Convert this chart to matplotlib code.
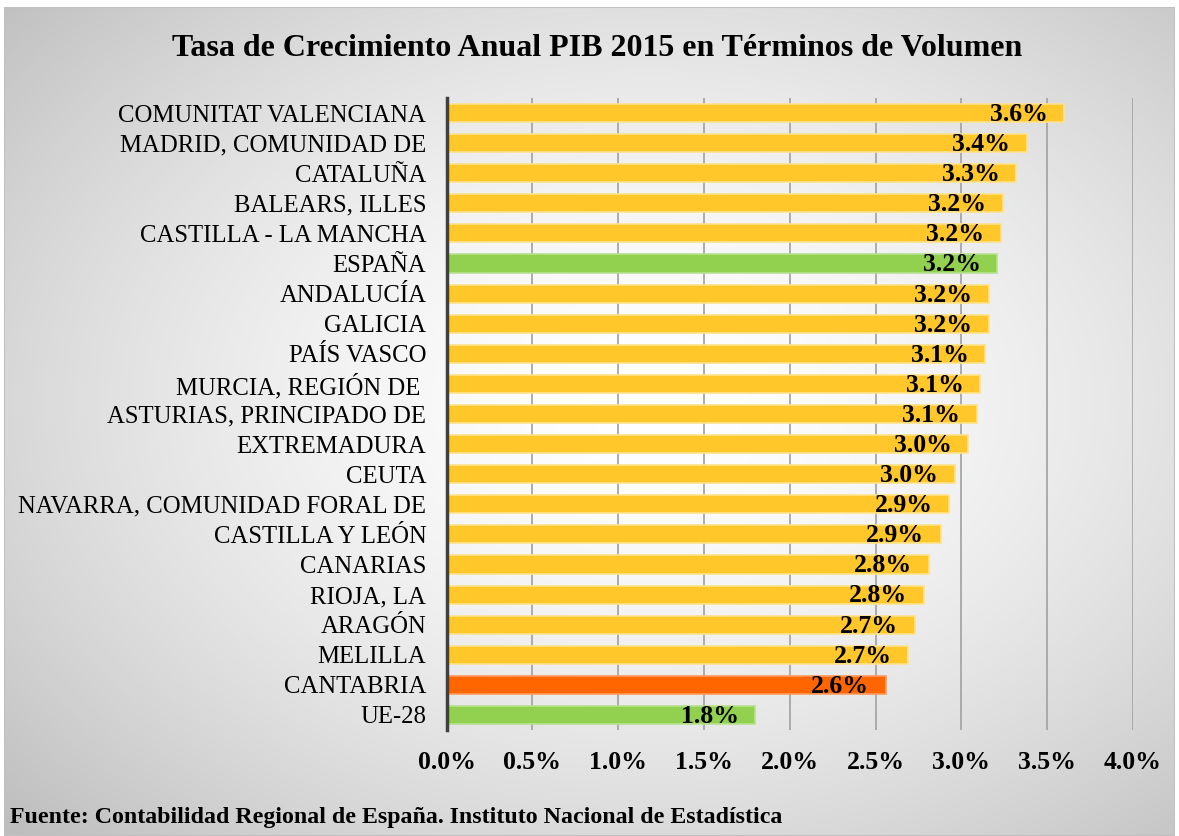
import numpy as np
import matplotlib
matplotlib.use("Agg")
import matplotlib.pyplot as plt

categories = [
    "COMUNITAT VALENCIANA", "MADRID, COMUNIDAD DE", "CATALUÑA", "BALEARS, ILLES",
    "CASTILLA - LA MANCHA", "ESPAÑA", "ANDALUCÍA", "GALICIA", "PAÍS VASCO",
    "MURCIA, REGIÓN DE ", "ASTURIAS, PRINCIPADO DE", "EXTREMADURA", "CEUTA",
    "NAVARRA, COMUNIDAD FORAL DE", "CASTILLA Y LEÓN", "CANARIAS", "RIOJA, LA",
    "ARAGÓN", "MELILLA", "CANTABRIA", "UE-28",
]
values = [3.60, 3.38, 3.32, 3.24, 3.23, 3.21, 3.16, 3.16, 3.14, 3.11, 3.09,
          3.04, 2.96, 2.93, 2.88, 2.81, 2.78, 2.73, 2.69, 2.56, 1.80]
xticks = [0.0, 0.5, 1.0, 1.5, 2.0, 2.5, 3.0, 3.5, 4.0]
title = "Tasa de Crecimiento Anual PIB 2015 en Términos de Volumen"
source = "Fuente: Contabilidad Regional de España. Instituto Nacional de Estadística"

YELLOW, YEDGE = "#FFC729", "#FFE28A"
GREEN, GEDGE = "#92D050", "#B8E08F"
ORANGE, OEDGE = "#FF6600", "#FF9A5A"

def colors_for(cat):
    if cat in ("ESPAÑA", "UE-28"):
        return GREEN, GEDGE
    if cat == "CANTABRIA":
        return ORANGE, OEDGE
    return YELLOW, YEDGE

plt.rcParams['font.family'] = ['Liberation Serif', 'DejaVu Serif']

W, H = 1179, 836
fig = plt.figure(figsize=(W / 100, H / 100), dpi=100)

# background radial gradient
bg = fig.add_axes([4 / W, 0, 1 - 8 / W, 1 - 7 / H])
bg.set_axis_off()
yy, xx = np.mgrid[0:400, 0:600]
cx, cy = 330, 190
r = np.sqrt(((xx - cx) / 600) ** 2 + ((yy - cy) / 400) ** 2) / 0.72
g = 1 - 0.24 * np.clip(r, 0, 1.2) ** 1.6
bg.imshow(np.dstack([g, g, g]), aspect='auto', extent=[0, 1, 0, 1])
bg.add_patch(plt.Rectangle((0, 0), 1, 1, transform=bg.transAxes, fill=False,
                           edgecolor="#C0C0C0", lw=1.5))

ax = fig.add_axes([446.5 / W, 1 - 730 / H, 686.5 / W, 632 / H])
ax.patch.set_alpha(0)
n = len(categories)
ypos = np.arange(n)[::-1]
for y, cat, v in zip(ypos, categories, values):
    fc, ec = colors_for(cat)
    ax.barh(y, v, height=0.6, color=fc, edgecolor=ec, linewidth=1.2, zorder=3)
    ax.annotate(f"{v:.1f}%", xy=(v, y), xytext=(-12, -1), textcoords='offset points',
                ha='right', va='center', fontsize=18.5, fontweight='bold', zorder=4)

ax.set_xlim(0, 4.0)
ax.set_ylim(-0.5, n - 0.5)
ax.set_xticks(xticks)
ax.set_xticklabels([f"{t:.1f}%" for t in xticks], fontsize=18.5, fontweight='bold')
ax.set_yticks(ypos)
ax.set_yticklabels(categories, fontsize=17.8)
ax.tick_params(axis='both', length=0)
ax.tick_params(axis='x', pad=15)
ax.tick_params(axis='y', pad=14.5)
ax.grid(axis='x', color="#A6A6A6", lw=1.3, zorder=0)
for s in ("top", "right", "bottom"):
    ax.spines[s].set_visible(False)
ax.spines['left'].set_color("#404040")
ax.spines['left'].set_linewidth(2.5)
ax.spines['left'].set_zorder(5)

fig.text(597 / W, 1 - 49 / H, title, ha='center', va='center', fontsize=23,
         fontweight='bold')
fig.text(10 / W, 1 - 818 / H, source, ha='left', va='center', fontsize=17.2,
         fontweight='bold')

fig.savefig("out.png", dpi=100)
